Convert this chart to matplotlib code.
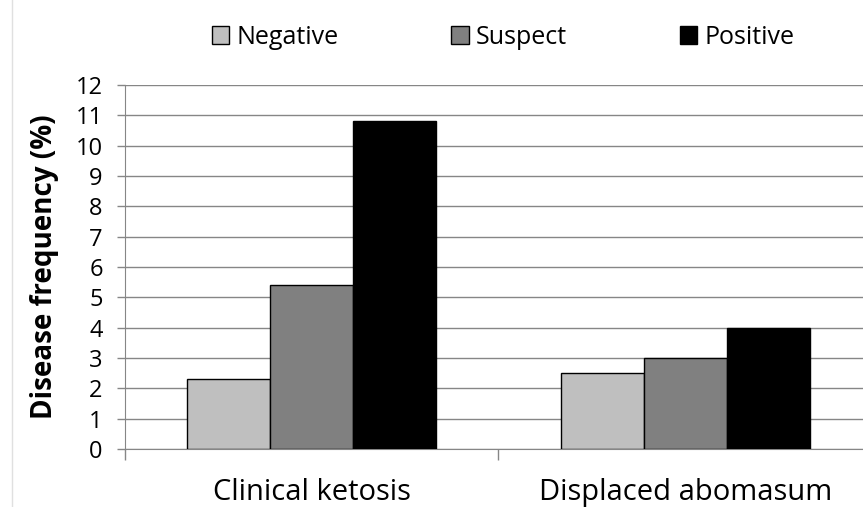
import matplotlib.pyplot as plt
from matplotlib.lines import Line2D
import numpy as np

plt.rcParams['font.family'] = ['Open Sans', 'DejaVu Sans']

categories = ["Clinical ketosis", "Displaced abomasum"]
series = ["Negative", "Suspect", "Positive"]
negative = [2.3, 2.5]
suspect = [5.4, 3.0]
positive = [10.8, 4.0]
colors = ["#bfbfbf", "#808080", "#000000"]
yticks = list(range(0, 13))

fig = plt.figure(figsize=(8.63, 5.07), dpi=100)
ax = fig.add_axes([0.1448, 0.1144, 0.8656, 0.718])

x = np.arange(len(categories)) + 0.5
w = 0.222
for i, (name, vals) in enumerate(zip(series, [negative, suspect, positive])):
    ax.bar(x + (i - 1) * w, vals, w, color=colors[i], edgecolor="black",
           linewidth=1.0, label=name, zorder=3)

gray = "#868686"
ax.set_xlim(0, 2)
ax.set_ylim(0, 12)
ax.set_yticks(yticks)
ax.yaxis.grid(True, color=gray, linewidth=1.0, zorder=0)
ax.set_axisbelow(True)
ax.set_xticks([0, 1, 2])
ax.set_xticklabels([])
ax.set_xticks(x, minor=True)
ax.set_xticklabels(categories, minor=True, fontsize=21)
ax.tick_params(axis='x', which='minor', length=0, pad=21)
ax.tick_params(axis='x', which='major', length=8, color=gray, width=1)
ax.tick_params(axis='y', length=6, color=gray, width=1, labelsize=17, pad=10)
for s in ["top", "right"]:
    ax.spines[s].set_visible(False)
for s in ["left", "bottom"]:
    ax.spines[s].set_color(gray)
ax.set_ylabel("Disease frequency (%)", fontsize=20, fontweight="bold", labelpad=12)

fig.legend(loc="center", bbox_to_anchor=(0.583, 0.927), ncol=3, frameon=False,
           fontsize=18, handlelength=0.7, handleheight=0.7, handletextpad=0.3,
           columnspacing=4.5)

fig.add_artist(Line2D([0.014, 0.014], [0.0, 1.0], color="#e0e0e0", linewidth=1,
                      transform=fig.transFigure))

fig.savefig("out.png", dpi=100)
